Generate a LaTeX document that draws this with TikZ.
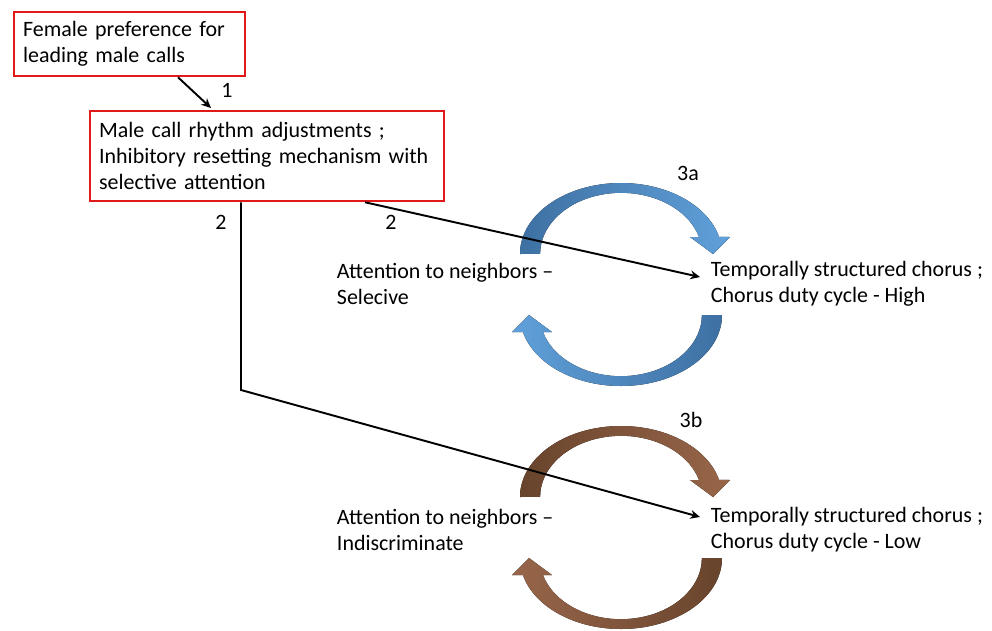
\documentclass[tikz,border=0pt]{standalone}
\usepackage{fontspec}
\setmainfont{Carlito}
\usetikzlibrary{calc,arrows.meta}
\definecolor{rosso}{RGB}{225,25,25}
\definecolor{bluD}{RGB}{62,112,162}
\definecolor{bluL}{RGB}{96,160,218}
\definecolor{marD}{RGB}{104,68,44}
\definecolor{marL}{RGB}{152,102,74}

\begin{document}
\begin{tikzpicture}[
			x=0.02cm, y=-0.02cm,
			>={Stealth[length=5.5pt, width=5pt]}, line width=1.1pt,
			riquadro/.style={draw=rosso, line width=1.3pt, anchor=north west,
				align=left, inner xsep=0.18cm, inner ysep=0pt,
				font=\fontsize{12.5}{14.8}\selectfont},
			testo/.style={anchor=west, align=left, inner sep=0pt,
				font=\fontsize{12.5}{14.8}\selectfont},
			etich/.style={inner sep=0pt, font=\fontsize{12.5}{14.8}\selectfont},
			freccia/.style={->, line width=1.1pt, black}]
			
			\useasboundingbox (0,0) rectangle (992,630);
			
			%% --- riquadri rossi ---
			\node[riquadro, text width=4.26cm, minimum height=1.28cm] (femm) at (13,11)
				{Female preference for\\leading male calls};
			\node[riquadro, text width=6.72cm, minimum height=1.8cm] (masc) at (89,110)
				{Male call rhythm adjustments ;\\Inhibitory resetting mechanism with\\selective attention};
			
			%% --- testi dei due cori ---
			\node[testo] (attA) at (336,284) {Attention to neighbors –\\Selecive};
			\node[testo] (temA) at (710,284) {Temporally structured chorus ;\\Chorus duty cycle - High};
			\node[testo] (attB) at (336,530) {Attention to neighbors –\\Indiscriminate};
			\node[testo] (temB) at (710,530) {Temporally structured chorus ;\\Chorus duty cycle - Low};
			
			%% --- frecce curve (ciclo superiore e inferiore) ---
			%% h = quota della base rispetto al centro del ciclo
			\def\h{30.5}
			\foreach \yc/\cs/\cc in {284.5/bluD/bluL, 527.5/marD/marL}{
				\begin{scope}[shift={(621,\yc)}, yscale=-1]
					\fill[left color=\cs, right color=\cc]
						(-101,\h) arc[start angle=180, end angle=14, x radius=101, y radius=71]
						-- (109,\h+17) -- (92,\h) -- (69,\h+17) -- (78,\h+17)
						arc[start angle=16, end angle=180, x radius=81, y radius=61] -- cycle;
					\fill[left color=\cc, right color=\cs]
						(101,-\h) arc[start angle=0, end angle=-166, x radius=101, y radius=71]
						-- (-109,-\h-17) -- (-92,-\h) -- (-69,-\h-17) -- (-78,-\h-17)
						arc[start angle=-164, end angle=0, x radius=81, y radius=61] -- cycle;
				\end{scope}
			}
			
			%% --- collegamenti ---
			\coordinate (gomito) at (241,390);
			\draw[freccia] ($(femm.south west)+(165,0)$) -- ($(masc.north west)+(122,-2)$);
			\draw[freccia] ($(masc.south west)+(276,0)$) -- ($(temA.west)+(-10,-7)$);
			\draw[freccia] ($(masc.south west)+(152,0)$) -- (gomito) -- ($(temB.west)+(-10,-13)$);
			
			%% --- etichette ---
			\node[etich] (n1) at (227,90) {1};
			\node[etich] (n2a) at (221,222) {2};
			\node[etich] (n2b) at (391,222) {2};
			\node[etich] (n3a) at (688,173) {3a};
			\node[etich] (n3b) at (691,420) {3b};
			
		\end{tikzpicture}
\end{document}
